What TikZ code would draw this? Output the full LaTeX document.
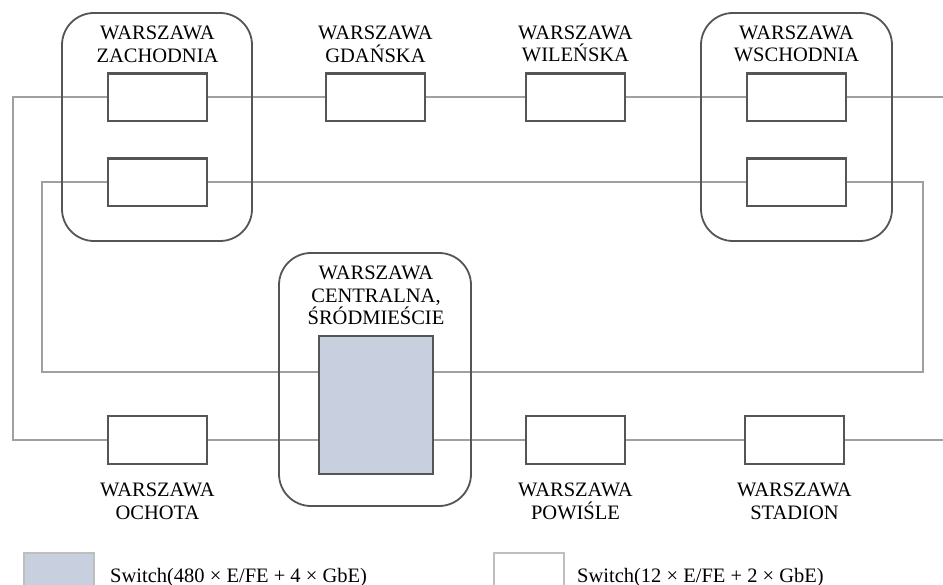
\documentclass[tikz,border=0pt]{standalone}
\usepackage{fontspec}
\setmainfont{Liberation Serif}
\usepackage{xcolor}
\usepackage{tikz}
\usetikzlibrary{positioning,calc}

\definecolor{swfill}{RGB}{200,208,224}
\definecolor{swedge}{RGB}{85,85,85}
\definecolor{linkgray}{RGB}{160,160,160}
\definecolor{keyedge}{RGB}{190,190,190}

\begin{document}
\begin{tikzpicture}[x=1pt, y=-1pt,
  sw/.style   = {rectangle, draw=swedge, line width=2.4pt, fill=white,
                 inner sep=0pt, minimum width=98.6pt, minimum height=47.6pt},
  core/.style = {sw, fill=swfill, minimum width=113.6pt, minimum height=137.6pt},
  grp/.style  = {rectangle, draw=swedge, line width=1.8pt,
                 rounded corners=32pt, inner sep=0pt},
  lbl/.style  = {align=center, inner sep=0pt,
                 font=\fontsize{20.5}{22.5}\selectfont},
  key/.style  = {rectangle, draw=keyedge, line width=1.5pt, inner sep=0pt,
                 minimum width=70pt, minimum height=50pt},
  link/.style = {draw=linkgray, line width=2pt}
]
\useasboundingbox (0,0) rectangle (943,585);
\clip (0,0) rectangle (943,585);

% --  Upper row of stations  --
\node[sw] at (157.5,97.5)          (zachTop) {};
\node[sw, right=117pt of zachTop]  (gdansk)  {};
\node[sw, right=99pt of gdansk]    (wilen)   {};
\node[sw, right=120pt of wilen]    (wschTop) {};

% second switch in the two big stations
\node[sw, below=35pt of zachTop]   (zachBot) {};
\node[sw, below=35pt of wschTop]   (wschBot) {};

% --  Core station and lower row  --
\node[core] at (376,405)           (core)    {};
\node[sw] at (157.5,440)           (ochota)  {};
\node[sw] at (575.5,440)           (powisle) {};
\node[sw, right=118pt of powisle]  (stadion) {};

% --  Station names  --
\node[lbl, above=10pt of zachTop]  (zachLbl)  {WARSZAWA\\ZACHODNIA};
\node[lbl, above=10pt of gdansk]   (gdanskLbl){WARSZAWA\\GDAŃSKA};
\node[lbl, above=10pt of wilen]    (wilenLbl) {WARSZAWA\\WILEŃSKA};
\node[lbl, above=10pt of wschTop]  (wschLbl)  {WARSZAWA\\WSCHODNIA};
\node[lbl, above=10pt of core]     (coreLbl)  {WARSZAWA\\CENTRALNA,\\ŚRÓDMIEŚCIE};
\node[lbl, below=18pt of ochota]   (ochotaLbl){WARSZAWA\\OCHOTA};
\node[lbl, below=18pt of powisle]  (powisleLbl){WARSZAWA\\POWIŚLE};
\node[lbl, below=18pt of stadion]  (stadionLbl){WARSZAWA\\STADION};

% --  Helper coordinates for the ring lines  --
\coordinate (outerW) at (13,0);
\coordinate (innerW) at (42,0);
\coordinate (innerE) at (923,0);
\coordinate (edgeE)  at (943,0);
\coordinate (ringB)  at (0,372);

% --  Links: outer ring  --
\draw[link] (zachTop) -- (gdansk) -- (wilen) -- (wschTop) -- (edgeE |- wschTop);
\draw[link] (zachTop.west) -| (outerW |- ochota) -- (ochota.west);
\draw[link] (ochota) -- (core.west |- ochota);
\draw[link] (core.east |- ochota) -- (powisle) -- (stadion) -- (edgeE |- stadion);

% --  Links: inner ring  --
\draw[link] (zachBot) -- (wschBot);
\draw[link] (zachBot.west) -| (innerW |- ringB) -- (core.west |- ringB);
\draw[link] (wschBot.east) -| (innerE |- ringB) -- (core.east |- ringB);

% --  Station outlines  --
\node[grp, minimum width=190pt, minimum height=228pt] at (157,127)   (zachGrp) {};
\node[grp, minimum width=191pt, minimum height=228pt] at (796.5,127) (wschGrp) {};
\node[grp, minimum width=192pt, minimum height=253pt] at (375,379.5) (coreGrp) {};

% --  Legend  --
\node[key, fill=swfill, anchor=north west] at (23,552)  (keyCore) {};
\node[key, anchor=north west]              at (493,552) (keySw)   {};
\node[lbl, anchor=base west] at (110,582) (keyCoreTxt) {Switch(480 × E/FE + 4 × GbE)};
\node[lbl, anchor=base west] at (577,582) (keySwTxt)   {Switch(12 × E/FE + 2 × GbE)};

\end{tikzpicture}
\end{document}
